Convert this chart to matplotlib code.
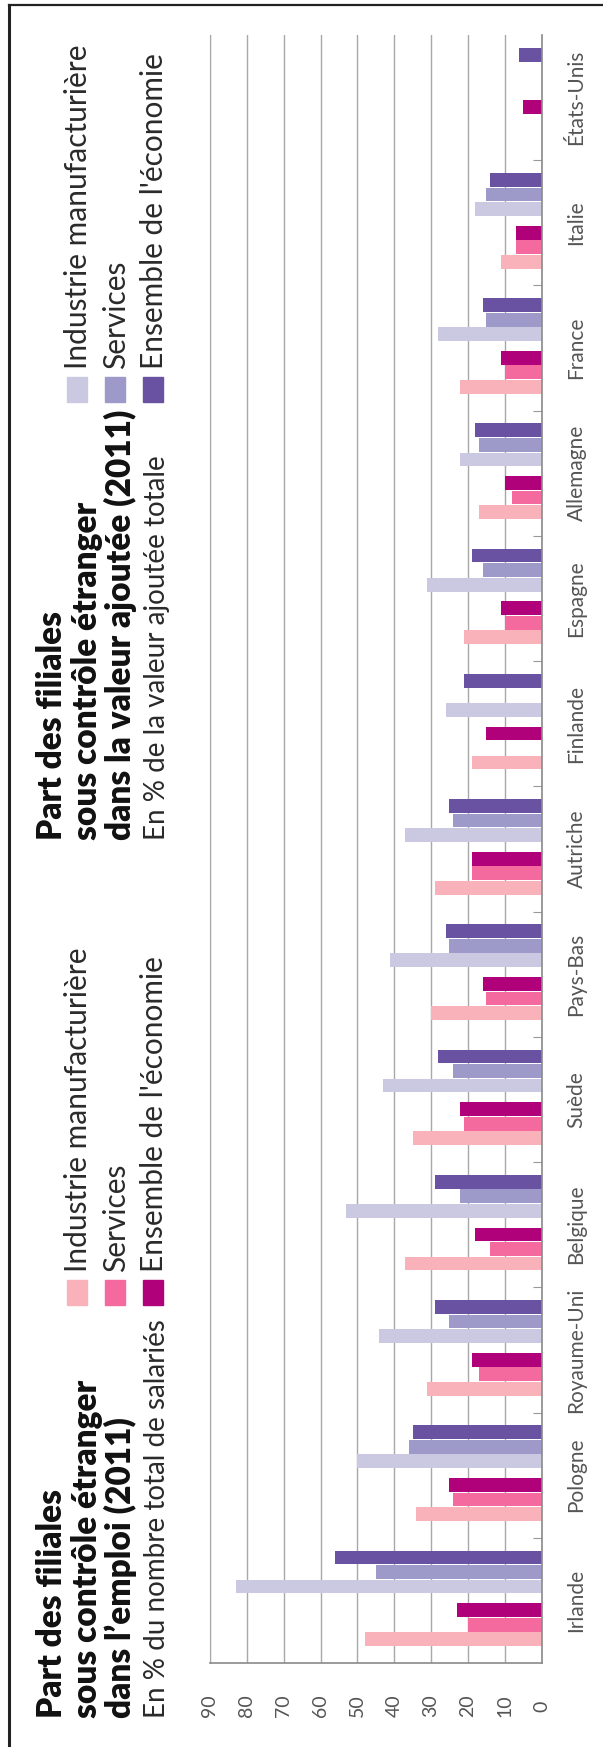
import numpy as np
import matplotlib.pyplot as plt
from matplotlib.patches import Rectangle
from matplotlib.lines import Line2D

plt.rcParams['font.family'] = ['Lato', 'DejaVu Sans']

countries = ['Irlande', 'Pologne', 'Royaume-Uni', 'Belgique', 'Suède', 'Pays-Bas',
             'Autriche', 'Finlande', 'Espagne', 'Allemagne', 'France', 'Italie', 'États-Unis']

# part dans l'emploi (% du nombre total de salariés)
emp_industrie = [48, 34, 31, 37, 35, 30, 29, 19, 21, 17, 22, 11, np.nan]
emp_services = [20, 24, 17, 14, 21, 15, 19, np.nan, 10, 8, 10, 7, np.nan]
emp_ensemble = [23, 25, 19, 18, 22, 16, 19, 15, 11, 10, 11, 7, 5]
# part dans la valeur ajoutée (% de la VA totale)
va_industrie = [83, 50, 44, 53, 43, 41, 37, 26, 31, 22, 28, 18, np.nan]
va_services = [45, 36, 25, 22, 24, 25, 24, np.nan, 16, 17, 15, 15, np.nan]
va_ensemble = [56, 35, 29, 29, 28, 26, 25, 21, 19, 18, 16, 14, 6]

legend_labels = ['Industrie manufacturière', 'Services', "Ensemble de l'économie"]
title_emp = ['Part des filiales', 'sous contrôle étranger', 'dans l’emploi (2011)']
sub_emp = 'En % du nombre total de salariés'
title_va = ['Part des filiales', 'sous contrôle étranger', 'dans la valeur ajoutée (2011)']
sub_va = 'En % de la valeur ajoutée totale'

pinks = ['#f9b2b9', '#f46a9f', '#b0007a']
purples = ['#cbc8e2', '#9d99c8', '#6a52a2']

W, H = 603, 1747
fig = plt.figure(figsize=(W / 100, H / 100), dpi=100)
ax = fig.add_axes([210 / W, 1 - 1663 / H, 331.5 / W, 1628 / H])

y = np.arange(len(countries))
series = [emp_industrie, emp_services, emp_ensemble, va_industrie, va_services, va_ensemble]
offsets = [-0.31, -0.194, -0.078, 0.111, 0.227, 0.343]
for vals, off, col in zip(series, offsets, pinks + purples):
    ax.barh(y + off, vals, height=0.11, color=col, zorder=2)

ax.set_xlim(90, 0)
ax.set_ylim(-0.5, len(countries) - 0.5)
ax.set_xticks(range(0, 100, 10))
ax.xaxis.grid(True, color='#a8a8a8', lw=1)
ax.set_axisbelow(True)
ax.spines['top'].set_visible(False)
ax.spines['left'].set_color('#a8a8a8')
for s in ['bottom', 'right']:
    ax.spines[s].set_color('#8a8a8a')
    ax.spines[s].set_linewidth(1.2)

ax.tick_params(axis='x', length=0, pad=31, labelrotation=90, labelsize=14, labelcolor='#555555')
for lbl in ax.get_xticklabels():
    lbl.set_va('center')

ax.yaxis.tick_right()
ax.set_yticks(y)
ax.set_yticklabels(countries, rotation=90, va='center', ha='left')
ax.set_yticks(np.arange(0.5, len(countries) - 1), minor=True)
ax.tick_params(axis='y', which='major', length=0, pad=18, labelsize=15, labelcolor='#555555')
ax.tick_params(axis='y', which='minor', direction='in', length=6.5, width=0.8, color='#999999')


def ftext(x, yy, s, **kw):
    fig.text(x / W, 1 - yy / H, s, rotation=90, rotation_mode='anchor',
             ha='left', va='baseline', **kw)


# titres
for start, lines, sub in [(1718, title_emp, sub_emp), (840, title_va, sub_va)]:
    for xb, line in zip([62, 97, 131], lines):
        ftext(xb, start, line, fontsize=24, fontweight='heavy', color='#111111')
    ftext(165, start, sub, fontsize=20, color='#2a2a2a')

# légendes
for ytop, cols in [(1280, pinks), (377, purples)]:
    for xb, col, lab in zip([87, 125, 163], cols, legend_labels):
        fig.add_artist(Rectangle(((xb - 20) / W, 1 - (ytop + 25) / H), 20 / W, 25 / H,
                                 transform=fig.transFigure, color=col))
        ftext(xb, ytop - 8, lab, fontsize=21.5, color='#2a2a2a')

# cadre
fig.add_artist(Line2D([9 / W, 9 / W], [0, 1 - 5 / H], transform=fig.transFigure,
                      color='#222222', lw=2.2))
fig.add_artist(Line2D([9 / W, 1], [1 - 5 / H, 1 - 5 / H], transform=fig.transFigure,
                      color='#222222', lw=1.6))

fig.savefig('out.png', dpi=100)
